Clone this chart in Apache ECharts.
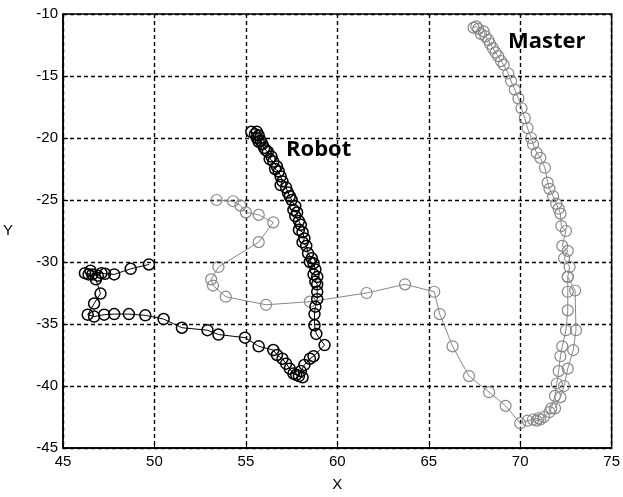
<!DOCTYPE html>
<html>
<head>
<meta charset="utf-8">
<script src="https://cdn.jsdelivr.net/npm/echarts@6/dist/echarts.min.js"></script>
<style>html,body{margin:0;padding:0;background:#fff}#c{width:623px;height:497px}</style>
</head>
<body>
<div id="c"></div>
<script>
var xTicks = [45, 50, 55, 60, 65, 70, 75];
var yTicks = [-45, -40, -35, -30, -25, -20, -15, -10];

var robotX = [55.3,55.5,55.6,55.7,55.6,55.8,55.9,55.7,56.0,56.1,56.2,56.4,56.3,56.5,56.7,56.6,56.8,56.9,57.0,56.9,57.2,57.3,57.4,57.5,57.7,57.6,57.8,57.7,57.9,58.0,57.9,58.1,58.2,58.1,58.3,58.4,58.6,58.5,58.7,58.8,58.7,58.9,58.8,58.9,58.9,58.9,58.8,58.75,58.75,58.85,59.3,58.7,58.5,58.2,58.0,57.9,58.1,57.75,57.6,57.4,57.2,57.0,56.7,56.5,55.7,54.95,53.5,52.9,51.5,50.5,49.5,48.6,47.8,47.25,46.7,46.35,46.7,47.05,46.8,46.4,46.2,46.6,46.9,47.1,46.5,47.3,47.8,48.7,49.7];
var robotY = [-19.5,-19.7,-19.5,-19.8,-20.0,-20.2,-20.5,-20.3,-20.8,-21.0,-21.1,-21.5,-21.7,-21.9,-22.3,-22.5,-22.7,-23.1,-23.5,-23.8,-24.0,-24.4,-24.7,-25.0,-25.5,-25.8,-26.0,-26.3,-26.7,-27.0,-27.4,-27.6,-28.1,-28.4,-28.7,-29.3,-29.7,-30.0,-30.1,-30.6,-31.0,-31.2,-31.6,-31.8,-32.4,-33.0,-33.6,-34.2,-35.1,-35.8,-36.7,-37.6,-37.8,-38.3,-38.8,-39.2,-39.3,-39.1,-39.0,-38.6,-38.2,-37.8,-37.5,-37.1,-36.8,-36.1,-35.85,-35.5,-35.3,-34.6,-34.3,-34.2,-34.2,-34.25,-34.4,-34.25,-33.35,-32.55,-31.4,-31.0,-30.9,-31.0,-31.1,-30.9,-30.7,-30.95,-31.0,-30.55,-30.2,-30.2];

// master: outer bottom branch up and main curve to the top
var masterAX = [71.9,72.2,72.4,72.6,72.9,73.05,73.0,72.6,72.7,72.4,72.6,72.3,72.5,72.25,72.2,72.1,71.97,71.8,71.6,71.5,71.35,71.1,70.9,70.7,70.6,70.4,70.25,70.07,69.9,69.7,69.5,69.35,69.1,68.95,68.8,68.65,68.5,68.35,68.26,68.1,68.0,67.85,67.7,67.6,67.45];
var masterAY = [-41.8,-40.9,-40.0,-38.6,-37.1,-35.5,-32.3,-31.2,-30.4,-29.7,-29.1,-28.7,-27.5,-27.1,-26.1,-25.7,-25.3,-24.7,-24.1,-23.6,-22.4,-21.6,-21.2,-20.5,-20.0,-19.2,-18.4,-17.6,-16.8,-16.1,-15.4,-14.8,-14.1,-13.8,-13.4,-13.1,-12.75,-12.4,-12.1,-11.8,-11.4,-11.6,-11.2,-11.0,-11.1];
// master: inner branch down, bottom cluster and the return path to the left
var masterBX = [72.6,72.6,72.6,72.5,72.3,72.2,72.1,72.0,71.9,71.7,71.6,71.3,71.1,70.9,71.0,70.7,70.4,70.0,69.2,68.3,67.2,66.3,65.6,65.3,63.7,61.6,58.5,56.1,53.9,53.2,53.1,53.5,55.7,56.5,55.7,55.0,54.7,54.3,53.4];
var masterBY = [-31.2,-32.4,-33.9,-35.5,-36.8,-37.6,-38.8,-39.8,-40.8,-41.8,-42.1,-42.5,-42.7,-42.8,-42.6,-42.7,-42.8,-43.0,-41.6,-40.5,-39.2,-36.8,-34.2,-32.4,-31.8,-32.5,-33.2,-33.45,-32.8,-31.9,-31.4,-30.4,-28.4,-26.8,-26.2,-26.0,-25.45,-25.1,-25.0];

function zip(xs, ys) { return xs.map(function (x, i) { return [x, ys[i]]; }); }

var chart = echarts.init(document.getElementById('c'), null, { renderer: 'canvas' });
var tickFont = { fontFamily: 'Liberation Sans, Arial, sans-serif', fontSize: 15, color: '#000' };
var gridLine = { show: true, lineStyle: { color: '#000', width: 1.4, type: [4, 3] } };

function traj(data, color, lineColor, bw, z) {
  return {
    type: 'line', data: data, z: z,
    symbol: 'circle', symbolSize: 11, showAllSymbol: true,
    lineStyle: { color: lineColor, width: 1 },
    itemStyle: { color: 'rgba(0,0,0,0)', borderColor: color, borderWidth: bw },
    emphasis: { disabled: true }
  };
}

chart.setOption({
  animation: false,
  backgroundColor: '#fff',
  grid: { left: 62, right: 9, top: 14, bottom: 47, show: true, borderColor: '#000', borderWidth: 1.5, backgroundColor: 'transparent' },
  xAxis: {
    type: 'value', min: xTicks[0], max: xTicks[xTicks.length - 1], interval: 5,
    name: 'X', nameLocation: 'middle', nameGap: 29,
    nameTextStyle: { fontFamily: 'Liberation Sans, Arial, sans-serif', fontSize: 15, color: '#000' },
    axisLine: { show: true, lineStyle: { color: '#000', width: 1.5 } },
    axisTick: { show: true, inside: true, length: 5, lineStyle: { color: '#000' } },
    axisLabel: Object.assign({ margin: 6 }, tickFont),
    splitLine: gridLine
  },
  yAxis: {
    type: 'value', min: yTicks[0], max: yTicks[yTicks.length - 1], interval: 5,
    name: 'Y', nameLocation: 'middle', nameRotate: 0, nameGap: 50,
    nameTextStyle: { fontFamily: 'Liberation Sans, Arial, sans-serif', fontSize: 15, color: '#000' },
    axisLine: { show: true, lineStyle: { color: '#000', width: 1.5 } },
    axisTick: { show: true, inside: true, length: 5, lineStyle: { color: '#000' } },
    axisLabel: Object.assign({ margin: 5 }, tickFont),
    splitLine: gridLine
  },
  graphic: [
    { type: 'text', left: 286, top: 139, style: { text: 'Robot', font: 'bold 22px "Open Sans", sans-serif', fill: '#000' } },
    { type: 'text', left: 508, top: 31, style: { text: 'Master', font: 'bold 22px "Open Sans", sans-serif', fill: '#000' } }
  ],
  series: [
    traj(zip(masterAX, masterAY), '#888', '#888', 1.2, 2),
    traj(zip(masterBX, masterBY), '#888', '#888', 1.2, 2),
    traj(zip(robotX, robotY), '#000', '#000', 1.5, 3)
  ]
});
</script>
</body>
</html>
